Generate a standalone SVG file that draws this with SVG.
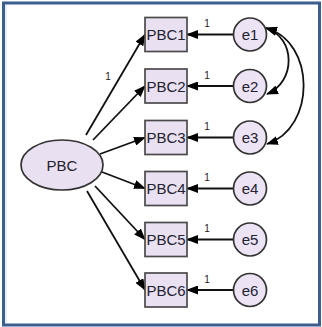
<svg xmlns="http://www.w3.org/2000/svg" width="322" height="327" viewBox="0 0 322 327">
<defs>
<style>
.box{fill:#e9e0f1;stroke:#4a4a4a;stroke-width:1.7}
.circ{fill:#ece3f4;stroke:#333;stroke-width:1.7}
.lat{fill:#e9e0f1;stroke:#333;stroke-width:1.7}
.lbl{font-family:"Liberation Sans",Arial,sans-serif;font-size:15px;fill:#222230;text-anchor:middle}
.one{font-family:"Liberation Sans",Arial,sans-serif;font-size:10px;fill:#2a2020;text-anchor:middle}
.ln{stroke:#111;stroke-width:1.8;fill:none}
</style>
<marker id="ah" viewBox="0 0 12 9" refX="11" refY="4.5" markerWidth="12" markerHeight="9" markerUnits="userSpaceOnUse" orient="auto-start-reverse">
<path d="M0,0 L12,4.5 L0,9 Z" fill="#000"/>
</marker>
</defs>
<rect x="0" y="0" width="322" height="327" fill="#ffffff"/>
<rect x="3.5" y="3" width="316" height="322" fill="none" stroke="#3b5e8e" stroke-width="3"/>
<line x1="6" y1="5" x2="6" y2="323" stroke="#cfe0f0" stroke-width="1"/>

<g id="connectors">
<line class="ln" x1="86" y1="135" x2="145" y2="34.5" marker-end="url(#ah)"/>
<line class="ln" x1="93" y1="140" x2="145" y2="86" marker-end="url(#ah)"/>
<line class="ln" x1="100" y1="154" x2="145" y2="137.5" marker-end="url(#ah)"/>
<line class="ln" x1="102" y1="172" x2="145" y2="188.5" marker-end="url(#ah)"/>
<line class="ln" x1="95" y1="186" x2="145" y2="239.5" marker-end="url(#ah)"/>
<line class="ln" x1="87" y1="191" x2="145" y2="290" marker-end="url(#ah)"/>
<line class="ln" x1="233.5" y1="34.5" x2="187" y2="34.5" marker-end="url(#ah)"/>
<line class="ln" x1="233.5" y1="86" x2="187" y2="86" marker-end="url(#ah)"/>
<line class="ln" x1="233.5" y1="137.5" x2="187" y2="137.5" marker-end="url(#ah)"/>
<line class="ln" x1="233.5" y1="188.5" x2="187" y2="188.5" marker-end="url(#ah)"/>
<line class="ln" x1="233.5" y1="239.5" x2="187" y2="239.5" marker-end="url(#ah)"/>
<line class="ln" x1="233.5" y1="290" x2="187" y2="290" marker-end="url(#ah)"/>
<path class="ln" d="M266,28 C296,38 296,82 267,94" marker-start="url(#ah)" marker-end="url(#ah)"/>
<path class="ln" d="M266,28 C316,42 316,128 267,144" marker-start="url(#ah)" marker-end="url(#ah)"/>
<text class="one" x="108" y="80">1</text>
<text class="one" x="207" y="27">1</text>
<text class="one" x="207" y="79">1</text>
<text class="one" x="207" y="130">1</text>
<text class="one" x="207" y="181">1</text>
<text class="one" x="207" y="232">1</text>
<text class="one" x="207" y="283">1</text>
</g>

<g id="PBC"><ellipse class="lat" cx="62" cy="165" rx="41" ry="25"/><text class="lbl" x="62" y="170.5">PBC</text></g>
<g id="PBC1"><rect class="box" x="145" y="17.5" width="42" height="34"/><text class="lbl" x="166" y="40">PBC1</text></g>
<g id="PBC2"><rect class="box" x="145" y="69" width="42" height="34"/><text class="lbl" x="166" y="91.5">PBC2</text></g>
<g id="PBC3"><rect class="box" x="145" y="120.5" width="42" height="34"/><text class="lbl" x="166" y="143">PBC3</text></g>
<g id="PBC4"><rect class="box" x="145" y="171.5" width="42" height="34"/><text class="lbl" x="166" y="194">PBC4</text></g>
<g id="PBC5"><rect class="box" x="145" y="222.5" width="42" height="34"/><text class="lbl" x="166" y="245">PBC5</text></g>
<g id="PBC6"><rect class="box" x="145" y="273" width="42" height="34"/><text class="lbl" x="166" y="295.5">PBC6</text></g>
<g id="e1"><circle class="circ" cx="250" cy="34.5" r="16.5"/><text class="lbl" x="250" y="40">e1</text></g>
<g id="e2"><circle class="circ" cx="250" cy="86" r="16.5"/><text class="lbl" x="250" y="91.5">e2</text></g>
<g id="e3"><circle class="circ" cx="250" cy="137.5" r="16.5"/><text class="lbl" x="250" y="143">e3</text></g>
<g id="e4"><circle class="circ" cx="250" cy="188.5" r="16.5"/><text class="lbl" x="250" y="194">e4</text></g>
<g id="e5"><circle class="circ" cx="250" cy="239.5" r="16.5"/><text class="lbl" x="250" y="245">e5</text></g>
<g id="e6"><circle class="circ" cx="250" cy="290" r="16.5"/><text class="lbl" x="250" y="295.5">e6</text></g>
</svg>
